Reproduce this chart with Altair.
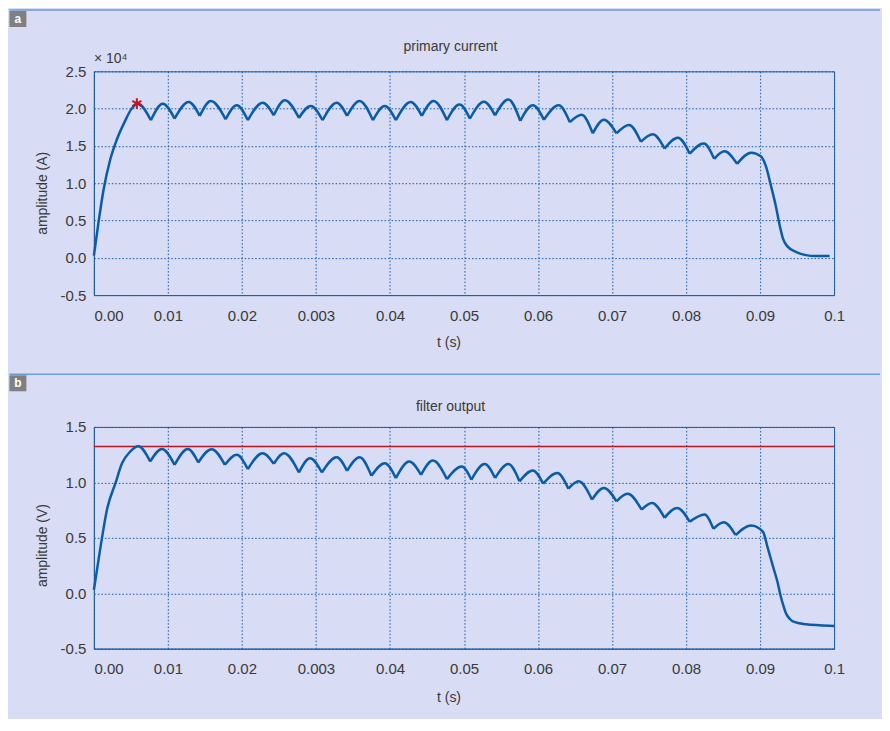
import altair as alt
import pandas as pd

# ---------------- data ----------------
# panel a : primary current (A)
A_RISE_T = [0.0, 0.0006, 0.0013, 0.0022, 0.0031, 0.0042, 0.0051]
A_RISE_V = [300, 4600, 9100, 13150, 15860, 18330, 20000]
A_PEAK_T = [0.0059, 0.0093, 0.0128, 0.0158, 0.0193, 0.0228, 0.0258, 0.0293, 0.0328,
            0.0359, 0.0393, 0.0428, 0.0459, 0.0494, 0.0527, 0.0560, 0.0593, 0.0628,
            0.0659, 0.0689, 0.0723, 0.0755, 0.0789, 0.0824, 0.0852, 0.0888]
A_PEAK_V = [20700, 20670, 20890, 21030, 20450, 20800, 21120, 20360, 20800,
            21030, 20360, 20890, 21030, 20540, 20910, 21230, 20450, 20450,
            19180, 18500, 17820, 16550, 16090, 15320, 14270, 14100]
A_DIP_T = [0.0077, 0.0109, 0.0143, 0.0178, 0.0208, 0.0243, 0.0277, 0.0309, 0.0342,
           0.0377, 0.0408, 0.0443, 0.0477, 0.0508, 0.0542, 0.0576, 0.0608, 0.0643,
           0.0674, 0.0706, 0.0739, 0.0771, 0.0805, 0.0838, 0.0869]
A_DIP_V = [18440, 18660, 19020, 18570, 18440, 19110, 18750, 18440, 19020,
           18440, 18440, 19020, 18440, 18640, 19090, 18360, 18500, 18180,
           16680, 16680, 15550, 14640, 13950, 13270, 12590]
A_FALL_T = [0.0901, 0.0908, 0.0915, 0.0922, 0.0926, 0.0931, 0.0937, 0.0949, 0.0962, 0.0975, 0.0994]
A_FALL_V = [13600, 12250, 9550, 6620, 4590, 2570, 1530, 770, 360, 230, 230]
A_STAR_T = [0.0058]
A_STAR_V = [20700]

# panel b : filter output (V)
B_RISE_T = [0.0, 0.0009, 0.0018, 0.0029, 0.0038, 0.0049]
B_RISE_V = [0.03, 0.42, 0.765, 0.99, 1.172, 1.277]
B_PEAK_T = [0.0060, 0.0092, 0.0127, 0.0159, 0.0193, 0.0228, 0.0257, 0.0292, 0.0328,
            0.0359, 0.0393, 0.0426, 0.0458, 0.0497, 0.0528, 0.0560, 0.0593, 0.0626,
            0.0655, 0.0689, 0.0721, 0.0754, 0.0788, 0.0825, 0.0851, 0.0888]
B_PEAK_V = [1.325, 1.302, 1.302, 1.299, 1.248, 1.263, 1.263, 1.218, 1.227,
            1.227, 1.173, 1.188, 1.197, 1.143, 1.165, 1.165, 1.108, 1.084,
            1.009, 0.949, 0.898, 0.814, 0.769, 0.710, 0.641, 0.611]
B_DIP_T = [0.0076, 0.0109, 0.0141, 0.0177, 0.0208, 0.0243, 0.0277, 0.0308, 0.0342,
           0.0375, 0.0408, 0.0442, 0.0477, 0.0510, 0.0542, 0.0575, 0.0607, 0.0641,
           0.0673, 0.0706, 0.0740, 0.0771, 0.0805, 0.0837, 0.0867]
B_DIP_V = [1.188, 1.158, 1.179, 1.158, 1.119, 1.167, 1.089, 1.089, 1.104,
           1.059, 1.038, 1.068, 1.029, 1.024, 1.039, 1.009, 0.988, 0.943,
           0.844, 0.829, 0.754, 0.680, 0.644, 0.581, 0.524]
B_FALL_T = [0.0904, 0.0910, 0.0917, 0.0924, 0.0928, 0.0931, 0.0935, 0.0940, 0.0946, 0.0962, 0.0980, 0.1000]
B_FALL_V = [0.554, 0.419, 0.253, 0.090, -0.030, -0.100, -0.180, -0.230, -0.259, -0.280, -0.289, -0.295]
B_LIMIT = [1.323]

X_TICKS = [0.0, 0.01, 0.02, 0.03, 0.04, 0.05, 0.06, 0.07, 0.08, 0.09, 0.1]
X_TICK_LABELS = ["0.00", "0.01", "0.02", "0.003", "0.04", "0.05", "0.06", "0.07", "0.08", "0.09", "0.1"]
A_Y_TICKS = [-5000, 0, 5000, 10000, 15000, 20000, 25000]
B_Y_TICKS = [-0.5, 0.0, 0.5, 1.0, 1.5]

# ---------------- styling ----------------
LAV = "#d8dcf4"
CURVE = "#0b5ca6"
AXBLUE = "#1f5fa6"
GRID = "#1459a8"
RED = "#bf1520"
SEP = "#6d9bd2"
TXT = "#3a3a3a"
FONT = "Liberation Sans"
W = 741
HA = 224
HB = 222


def build(rise_t, rise_v, peak_t, peak_v, dip_t, dip_v, fall_t, fall_v):
    rows = []
    for t, v in zip(rise_t, rise_v):
        rows.append((0, t, v))
    rows.append((0, peak_t[0], peak_v[0]))
    rows.append((0, dip_t[0], dip_v[0]))
    for k in range(1, len(peak_t)):
        rows.append((k, dip_t[k - 1], dip_v[k - 1]))
        rows.append((k, peak_t[k], peak_v[k]))
        if k < len(dip_t):
            rows.append((k, dip_t[k], dip_v[k]))
        else:
            for t, v in zip(fall_t, fall_v):
                rows.append((k, t, v))
    return pd.DataFrame(rows, columns=["seg", "t", "v"])


df_a = build(A_RISE_T, A_RISE_V, A_PEAK_T, A_PEAK_V, A_DIP_T, A_DIP_V, A_FALL_T, A_FALL_V)
df_b = build(B_RISE_T, B_RISE_V, B_PEAK_T, B_PEAK_V, B_DIP_T, B_DIP_V, B_FALL_T, B_FALL_V)
df_star = pd.DataFrame({"t": A_STAR_T, "v": A_STAR_V})
df_limit = pd.DataFrame({"v": B_LIMIT})

label_expr_x = "[" + ",".join("'%s'" % s for s in X_TICK_LABELS) + "][round(datum.value*100)]"


def x_enc(title_y):
    return alt.X(
        "t:Q",
        scale=alt.Scale(domain=[0, 0.1], nice=False, zero=False),
        axis=alt.Axis(
            values=X_TICKS, labelExpr=label_expr_x, labelFlush=False,
            labelAlign={"expr": "datum.value == 0 ? 'left' : 'center'"},
            labelPadding=13, title="t (s)", titleX=355, titleY=title_y,
            titleAlign="center", titleBaseline="middle",
        ),
    )


def y_enc(domain, ticks, title, expr, title_y):
    return alt.Y(
        "v:Q",
        scale=alt.Scale(domain=domain, nice=False, zero=False),
        axis=alt.Axis(
            values=ticks, labelExpr=expr, labelPadding=8, title=title,
            titleX=-51.6, titleY=title_y, titleAlign="center", titleBaseline="middle",
        ),
    )


def one(label):
    return pd.DataFrame({"label": [label]})


def decorations(letter, sep_y, title, title_y):
    sep = alt.Chart(one("")).mark_rule(color=SEP, strokeWidth=1.5).encode(
        x=alt.value(-84.6), x2=alt.value(787), y=alt.value(sep_y))
    box = alt.Chart(one("")).mark_rect(color="#808080").encode(
        x=alt.value(-84.6), x2=alt.value(-67.6), y=alt.value(sep_y + 1), y2=alt.value(sep_y + 17))
    let = alt.Chart(one(letter)).mark_text(color="white", font=FONT, fontSize=12, fontWeight="bold",
                                           baseline="middle", align="center").encode(
        x=alt.value(-76.1), y=alt.value(sep_y + 9), text="label:N")
    ttl = alt.Chart(one(title)).mark_text(color=TXT, font=FONT, fontSize=14,
                                          baseline="middle", align="center").encode(
        x=alt.value(357), y=alt.value(title_y), text="label:N")
    return [sep, box, let, ttl]


# ---- panel a ----
xa = x_enc(47)
ya = y_enc([-5000, 25000], A_Y_TICKS, "amplitude (A)",
           "(datum.value < 0 ? '-' : '') + format(abs(datum.value) / 10000, '.1f')", 121.6)
line_a = alt.Chart(df_a).mark_line(color=CURVE, strokeWidth=2.5, interpolate="monotone").encode(
    x=xa, y=ya, detail="seg:N")
star_a = alt.Chart(df_star).mark_point(
    shape="M0,-1L0,1M-0.866,-0.5L0.866,0.5M-0.866,0.5L0.866,-0.5",
    filled=False, color=RED, strokeWidth=2, size=110, opacity=1).encode(x=xa, y=ya)
exp_a = alt.Chart(one("× 10⁴")).mark_text(color=TXT, font=FONT, fontSize=14, align="left",
                                          baseline="middle").encode(
    x=alt.value(0), y=alt.value(-12), text="label:N")
panel_a = alt.layer(*decorations("a", -61.4, "primary current", -24.4), line_a, star_a, exp_a).properties(
    width=W, height=HA)

# ---- panel b ----
xb = x_enc(49)
yb = y_enc([-0.5, 1.5], B_Y_TICKS, "amplitude (V)",
           "(datum.value < 0 ? '-' : '') + format(abs(datum.value), '.1f')", 118.3)
line_b = alt.Chart(df_b).mark_line(color=CURVE, strokeWidth=2.5, interpolate="monotone").encode(
    x=xb, y=yb, detail="seg:N")
limit_b = alt.Chart(df_limit).mark_rule(color=RED, strokeWidth=1.5).encode(y=yb)
panel_b = alt.layer(*decorations("b", -52.7, "filter output", -19.7), limit_b, line_b).properties(
    width=W, height=HB)

chart = alt.vconcat(panel_a, panel_b, spacing=23).properties(
    background=LAV,
    padding={"left": 0, "top": 0, "right": 0, "bottom": 13},
).configure(font=FONT).configure_view(stroke=AXBLUE, strokeWidth=1).configure_axis(
    labelFont=FONT, labelFontSize=15, labelColor=TXT,
    titleFont=FONT, titleFontSize=14, titleFontWeight="normal", titleColor=TXT,
    grid=True, gridColor=GRID, gridDash=[1.5, 2], gridWidth=1, gridOpacity=1,
    domainColor=AXBLUE, domainWidth=1, ticks=False,
)

chart.save("out.html", embed_options={"renderer": "svg", "actions": False})
